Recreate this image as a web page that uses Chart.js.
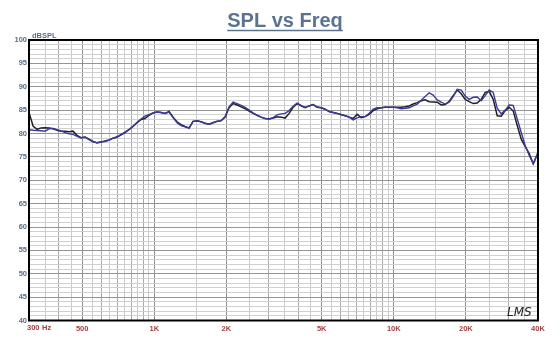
<!DOCTYPE html>
<html>
<head>
<meta charset="utf-8">
<script src="https://cdn.jsdelivr.net/npm/chart.js@4.4.1/dist/chart.umd.min.js"></script>
<style>
  html, body { margin: 0; padding: 0; background: #fff; }
</style>
</head>
<body>
<canvas id="spl" width="560" height="353"></canvas>
<script>
// frequency points (Hz)
const freqs = [
  300, 312, 324, 337, 350, 364, 378, 393, 408, 424,
  441, 458, 476, 495, 514, 534, 555, 577, 600, 623,
  648, 673, 699, 727, 755, 785, 816, 848, 881, 915,
  951, 989, 1027, 1068, 1110, 1153, 1198, 1245, 1294, 1345,
  1398, 1452, 1509, 1569, 1630, 1694, 1760, 1829, 1901, 1976,
  2053, 2134, 2218, 2305, 2395, 2489, 2586, 2688, 2793, 2903,
  3017, 3135, 3258, 3386, 3519, 3657, 3800, 3949, 4104, 4265,
  4432, 4606, 4786, 4974, 5169, 5372, 5583, 5802, 6029, 6266,
  6511, 6767, 7032, 7308, 7594, 7892, 8202, 8523, 8858, 9205,
  9566, 9941, 10331, 10736, 11157, 11595, 12049, 12522, 13013, 13523,
  14054, 14605, 15178, 15773, 16392, 17035, 17703, 18397, 19119, 19869,
  20648, 21458, 22299, 23174, 24083, 25027, 26009, 27029, 28089, 29191,
  30336, 31526, 32762, 34047, 35383, 36771, 38213, 39712, 40000
];

// SPL, blue trace (dB)
const splBlue = [
  80.8, 80.7, 80.65, 80.6, 80.5, 81.0, 81.1, 80.8, 80.55, 80.2,
  79.95, 79.8, 79.4, 79.05, 79.2, 78.7, 78.2, 78.05, 78.2, 78.3,
  78.6, 79.0, 79.3, 79.8, 80.3, 80.9, 81.6, 82.4, 83.1, 83.7,
  84.05, 84.4, 84.6, 84.5, 84.3, 84.6, 83.4, 82.3, 81.7, 81.4,
  81.1, 82.6, 82.7, 82.5, 82.2, 82.0, 82.3, 82.6, 82.8, 83.6,
  85.7, 86.7, 86.4, 86.0, 85.6, 85.0, 84.4, 83.9, 83.5, 83.2,
  83.1, 83.4, 84.0, 84.2, 84.3, 84.9, 85.8, 86.5, 86.0, 85.6,
  85.9, 86.2, 85.7, 85.5, 85.2, 84.7, 84.5, 84.3, 84.1, 83.8,
  83.5, 82.9, 83.35, 83.6, 83.6, 84.35, 85.2, 85.5, 85.5, 85.65,
  85.65, 85.6, 85.5, 85.3, 85.4, 85.5, 85.9, 86.3, 87.1, 87.9,
  88.7, 88.2, 87.2, 86.7, 86.3, 86.7, 87.9, 89.45, 89.3, 88.0,
  87.3, 87.75, 87.8, 87.0, 88.1, 89.3, 88.8, 85.4, 84.2, 85.0,
  86.1, 86.0, 83.1, 80.2, 77.4, 75.3, 73.5, 75.5, 76.1
];

// SPL, black trace (dB)
const splBlack = [
  84.5, 81.6, 80.9, 81.2, 81.25, 81.2, 81.0, 80.7, 80.5, 80.5,
  80.4, 80.5, 79.6, 79.1, 79.25, 78.8, 78.3, 78.0, 78.2, 78.4,
  78.6, 79.0, 79.2, 79.7, 80.2, 80.8, 81.5, 82.3, 83.0, 83.2,
  83.9, 84.4, 84.6, 84.5, 84.3, 84.7, 83.5, 82.5, 81.9, 81.5,
  81.2, 82.6, 82.7, 82.5, 82.2, 82.0, 82.3, 82.6, 82.7, 83.5,
  85.5, 86.4, 86.1, 85.7, 85.3, 84.8, 84.3, 83.9, 83.5, 83.2,
  83.1, 83.3, 83.6, 83.5, 83.3, 84.3, 85.6, 86.4, 85.9, 85.5,
  85.9, 86.2, 85.6, 85.5, 85.2, 84.7, 84.5, 84.3, 84.0, 83.8,
  83.5, 83.2, 84.1, 83.4, 83.6, 84.1, 84.9, 85.3, 85.5, 85.6,
  85.6, 85.6, 85.6, 85.6, 85.7, 85.9, 86.3, 86.6, 87.0, 87.2,
  86.8, 86.75, 86.7, 86.1, 86.2, 86.9, 88.1, 89.3, 88.5, 87.3,
  86.8, 86.4, 86.5, 87.3, 88.8, 89.0, 87.3, 83.8, 83.7, 84.9,
  85.6, 84.8, 81.7, 78.8, 77.2, 75.7, 73.5, 75.5, 76.1
];

// vertical grid lines
const gridFreqs = [
  300, 350, 400, 450, 500, 550, 600, 650, 700, 750, 800, 850, 900, 950,
  1000, 1500, 2000, 2500, 3000, 3500, 4000, 4500,
  5000, 5500, 6000, 6500, 7000, 7500, 8000, 8500, 9000, 9500,
  10000, 15000, 20000, 25000, 30000, 35000, 40000
];
const xLabelFreqs = [500, 1000, 2000, 5000, 10000, 20000, 40000];
const xLabelText = ['500', '1K', '2K', '5K', '10K', '20K', '40K'];

const yMin = 40;
const yMax = 100;

const FONT = 'Liberation Sans, Arial, sans-serif';
const TITLE_COLOR = '#5b7391';
const YLAB_COLOR = '#5a6e8a';
const XLAB_COLOR = '#a0423e';

function toPoints(ys) {
  return freqs.map((f, i) => ({ x: f, y: ys[i] }));
}

// 🖋 title, units, border, logo
const decorations = {
  id: 'decorations',
  afterDatasetsDraw(chart) {
    const { ctx, chartArea } = chart;
    const { left, top, right, bottom } = chartArea;
    ctx.save();

    // frame
    ctx.strokeStyle = '#000';
    ctx.lineWidth = 2;
    ctx.strokeRect(left, top, right - left, bottom - top);

    // title with underline
    ctx.fillStyle = TITLE_COLOR;
    ctx.font = 'bold 20px ' + FONT;
    ctx.textAlign = 'center';
    ctx.textBaseline = 'alphabetic';
    const title = 'SPL vs Freq';
    ctx.fillText(title, 285, 27);
    const w = ctx.measureText(title).width;
    ctx.strokeStyle = TITLE_COLOR;
    ctx.lineWidth = 1.5;
    ctx.beginPath();
    ctx.moveTo(285 - w / 2, 30.5);
    ctx.lineTo(285 + w / 2, 30.5);
    ctx.stroke();

    // unit label
    ctx.fillStyle = YLAB_COLOR;
    ctx.font = 'bold 7.5px ' + FONT;
    ctx.textAlign = 'left';
    ctx.fillText('dBSPL', 32, 38);

    // first x label with unit
    ctx.fillStyle = XLAB_COLOR;
    ctx.fillText('300', 27, 330);
    ctx.fillText('Hz', 42, 330);

    // logo
    ctx.fillStyle = '#222';
    ctx.font = 'italic 12px DejaVu Sans, sans-serif';
    ctx.fillText('LMS', 507, 316);

    ctx.restore();
  }
};

new Chart(document.getElementById('spl').getContext('2d'), {
  type: 'line',
  data: {
    datasets: [
      {
        label: 'Blue',
        data: toPoints(splBlue),
        borderColor: '#3b3b98',
        borderWidth: 1.4,
        pointRadius: 0,
        tension: 0
      },
      {
        label: 'Black',
        data: toPoints(splBlack),
        borderColor: '#20202a',
        borderWidth: 1.5,
        pointRadius: 0,
        tension: 0
      }
    ]
  },
  options: {
    responsive: false,
    animation: false,
    devicePixelRatio: 1,
    layout: { padding: { top: 40, right: 22, bottom: 0, left: 0 } },
    plugins: {
      legend: { display: false },
      tooltip: { enabled: false }
    },
    scales: {
      x: {
        type: 'logarithmic',
        min: 300,
        max: 40000,
        afterBuildTicks: axis => {
          axis.ticks = gridFreqs.map(v => ({ value: v }));
        },
        afterFit: s => { s.height = 32.5; },
        border: { display: false },
        grid: {
          drawTicks: false,
          lineWidth: 1,
          color: c => {
            const v = c.tick ? c.tick.value : 0;
            if (xLabelFreqs.includes(v)) return '#8e8e8e';
            const m = v / Math.pow(10, Math.floor(Math.log10(v)));
            return Number.isInteger(m) ? '#a8a8a8' : '#cbcbcb';
          }
        },
        ticks: {
          autoSkip: false,
          maxRotation: 0,
          padding: 4,
          color: XLAB_COLOR,
          font: { family: FONT, size: 7.5, weight: 'bold' },
          callback: v => {
            const i = xLabelFreqs.indexOf(v);
            return i >= 0 ? xLabelText[i] : '';
          }
        }
      },
      y: {
        type: 'linear',
        min: yMin,
        max: yMax,
        afterBuildTicks: axis => {
          const t = [];
          for (let v = yMin; v <= yMax; v++) t.push({ value: v });
          axis.ticks = t;
        },
        afterFit: s => { s.width = 29; },
        border: { display: false },
        grid: {
          drawTicks: false,
          lineWidth: 1,
          color: c => (c.tick && c.tick.value % 5 === 0) ? '#959595' : '#d0d0d0'
        },
        ticks: {
          autoSkip: false,
          padding: 2,
          color: YLAB_COLOR,
          font: { family: FONT, size: 7.5, weight: 'bold' },
          callback: v => (v % 5 === 0 ? String(v) : '')
        }
      }
    }
  },
  plugins: [decorations]
});
</script>
</body>
</html>
